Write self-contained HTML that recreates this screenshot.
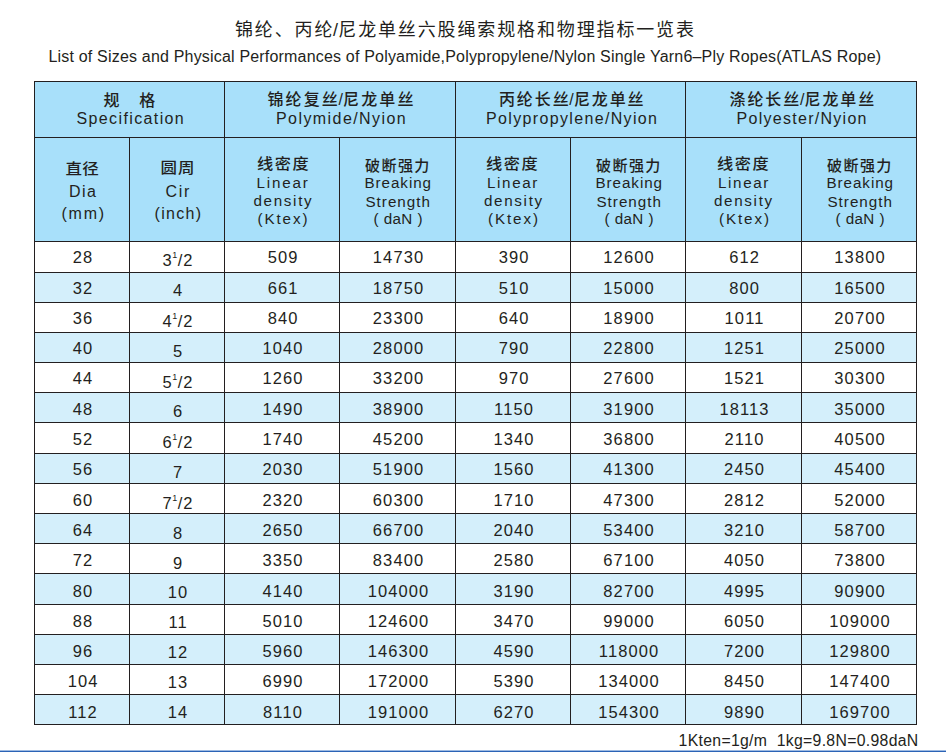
<!DOCTYPE html><html><head><meta charset="utf-8"><title>锦纶、丙纶/尼龙单丝六股绳索规格和物理指标一览表</title><style>
html,body{margin:0;padding:0;background:#fff;}
body{width:946px;height:752px;position:relative;overflow:hidden;font-family:'Liberation Sans', 'Noto Sans CJK SC', sans-serif;color:#231f20;}
div{position:absolute;}
.t{white-space:nowrap;}
.c{white-space:nowrap;text-align:center;}
.s{font-size:9px;letter-spacing:0.3px;margin-left:-0.4px;position:relative;top:-8px;}
</style></head><body>
<div style="left:34px;top:81px;width:882px;height:160px;background:#a8e0fa;"></div>
<div style="left:34px;top:272px;width:882px;height:30px;background:#d4effb;"></div>
<div style="left:34px;top:332px;width:882px;height:30px;background:#d4effb;"></div>
<div style="left:34px;top:392px;width:882px;height:30px;background:#d4effb;"></div>
<div style="left:34px;top:453px;width:882px;height:30px;background:#d4effb;"></div>
<div style="left:34px;top:513px;width:882px;height:30px;background:#d4effb;"></div>
<div style="left:34px;top:573px;width:882px;height:31px;background:#d4effb;"></div>
<div style="left:34px;top:634px;width:882px;height:30px;background:#d4effb;"></div>
<div style="left:34px;top:694px;width:882px;height:30px;background:#d4effb;"></div>
<div style="left:34px;top:81px;width:883px;height:1px;background:#231f20;"></div>
<div style="left:34px;top:137px;width:883px;height:1px;background:#231f20;"></div>
<div style="left:34px;top:241px;width:883px;height:1px;background:#231f20;"></div>
<div style="left:34px;top:272px;width:883px;height:1px;background:#231f20;"></div>
<div style="left:34px;top:302px;width:883px;height:1px;background:#231f20;"></div>
<div style="left:34px;top:332px;width:883px;height:1px;background:#231f20;"></div>
<div style="left:34px;top:362px;width:883px;height:1px;background:#231f20;"></div>
<div style="left:34px;top:392px;width:883px;height:1px;background:#231f20;"></div>
<div style="left:34px;top:422px;width:883px;height:1px;background:#231f20;"></div>
<div style="left:34px;top:453px;width:883px;height:1px;background:#231f20;"></div>
<div style="left:34px;top:483px;width:883px;height:1px;background:#231f20;"></div>
<div style="left:34px;top:513px;width:883px;height:1px;background:#231f20;"></div>
<div style="left:34px;top:543px;width:883px;height:1px;background:#231f20;"></div>
<div style="left:34px;top:573px;width:883px;height:1px;background:#231f20;"></div>
<div style="left:34px;top:604px;width:883px;height:1px;background:#231f20;"></div>
<div style="left:34px;top:634px;width:883px;height:1px;background:#231f20;"></div>
<div style="left:34px;top:664px;width:883px;height:1px;background:#231f20;"></div>
<div style="left:34px;top:694px;width:883px;height:1px;background:#231f20;"></div>
<div style="left:34px;top:724px;width:883px;height:1px;background:#231f20;"></div>
<div style="left:34px;top:81px;width:1px;height:644px;background:#231f20;"></div>
<div style="left:129px;top:137px;width:1px;height:588px;background:#231f20;"></div>
<div style="left:224px;top:81px;width:1px;height:644px;background:#231f20;"></div>
<div style="left:339px;top:137px;width:1px;height:588px;background:#231f20;"></div>
<div style="left:455px;top:81px;width:1px;height:644px;background:#231f20;"></div>
<div style="left:570px;top:137px;width:1px;height:588px;background:#231f20;"></div>
<div style="left:685px;top:81px;width:1px;height:644px;background:#231f20;"></div>
<div style="left:801px;top:137px;width:1px;height:588px;background:#231f20;"></div>
<div style="left:916px;top:81px;width:1px;height:644px;background:#231f20;"></div>
<div class="t" style="left:235px;top:20.1px;font-family:'Liberation Sans', 'Noto Sans CJK SC', sans-serif;font-size:18px;line-height:21.6px;letter-spacing:1.864px;">锦纶、丙<span style="letter-spacing:0.6px">纶</span><span style="font-family:'Liberation Sans',sans-serif;letter-spacing:0.2px">/</span>尼龙单丝六股绳索规格和物理指标一览表</div>
<div class="t" style="left:48.5px;top:47.38px;font-family:'Liberation Sans', 'Noto Sans CJK SC', sans-serif;font-size:16px;line-height:19.2px;letter-spacing:0.186px;">List of Sizes and Physical Performances of Polyamide,Polypropylene/Nylon Single Yarn6&#8211;Ply Ropes(ATLAS Rope)</div>
<div class="t" style="left:103.5px;top:90.85px;font-family:'Liberation Sans', 'Noto Sans CJK SC', sans-serif;font-size:16px;line-height:19.2px;letter-spacing:1.9px;font-weight:500;">规&#12288;格</div>
<div class="t" style="left:76.5px;top:109.2px;font-family:'Liberation Sans', 'Noto Sans CJK SC', sans-serif;font-size:16px;line-height:19.2px;letter-spacing:1.376px;">Specification</div>
<div class="t" style="left:267.5px;top:90.35px;font-family:'Liberation Sans', 'Noto Sans CJK SC', sans-serif;font-size:16px;line-height:19.2px;letter-spacing:2.099px;font-weight:500;">锦纶复<span style="letter-spacing:0.6px">丝</span><span style="font-family:'Liberation Sans',sans-serif;letter-spacing:0.2px">/</span>尼龙单丝</div>
<div class="t" style="left:276.0px;top:109.2px;font-family:'Liberation Sans', 'Noto Sans CJK SC', sans-serif;font-size:16px;line-height:19.2px;letter-spacing:1.427px;">Polymide/Nyion</div>
<div class="t" style="left:499px;top:90.35px;font-family:'Liberation Sans', 'Noto Sans CJK SC', sans-serif;font-size:16px;line-height:19.2px;letter-spacing:1.874px;font-weight:500;">丙纶长<span style="letter-spacing:0.6px">丝</span><span style="font-family:'Liberation Sans',sans-serif;letter-spacing:0.2px">/</span>尼龙单丝</div>
<div class="t" style="left:486.0px;top:109.2px;font-family:'Liberation Sans', 'Noto Sans CJK SC', sans-serif;font-size:16px;line-height:19.2px;letter-spacing:1.345px;">Polypropylene/Nyion</div>
<div class="t" style="left:729.5px;top:90.35px;font-family:'Liberation Sans', 'Noto Sans CJK SC', sans-serif;font-size:16px;line-height:19.2px;letter-spacing:1.918px;font-weight:500;">涤纶长<span style="letter-spacing:0.6px">丝</span><span style="font-family:'Liberation Sans',sans-serif;letter-spacing:0.2px">/</span>尼龙单丝</div>
<div class="t" style="left:736.5px;top:109.2px;font-family:'Liberation Sans', 'Noto Sans CJK SC', sans-serif;font-size:16px;line-height:19.2px;letter-spacing:1.284px;">Polyester/Nyion</div>
<div class="t" style="left:65.5px;top:159.85px;font-family:'Liberation Sans', 'Noto Sans CJK SC', sans-serif;font-size:16.5px;line-height:19.8px;letter-spacing:0.3px;font-weight:500;transform:scale(1.0,0.9);transform-origin:0 0;">直径</div>
<div class="t" style="left:69.0px;top:182.2px;font-family:'Liberation Sans', 'Noto Sans CJK SC', sans-serif;font-size:16px;line-height:19.2px;letter-spacing:1.4px;">Dia</div>
<div class="t" style="left:61.5px;top:204.2px;font-family:'Liberation Sans', 'Noto Sans CJK SC', sans-serif;font-size:16px;line-height:19.2px;letter-spacing:1.77px;">(mm)</div>
<div class="t" style="left:160.5px;top:158.85px;font-family:'Liberation Sans', 'Noto Sans CJK SC', sans-serif;font-size:16.5px;line-height:19.8px;letter-spacing:1.1px;font-weight:500;transform:scale(1.0,0.9);transform-origin:0 0;">圆周</div>
<div class="t" style="left:165.5px;top:182.2px;font-family:'Liberation Sans', 'Noto Sans CJK SC', sans-serif;font-size:16px;line-height:19.2px;letter-spacing:1.7px;">Cir</div>
<div class="t" style="left:154.5px;top:204.2px;font-family:'Liberation Sans', 'Noto Sans CJK SC', sans-serif;font-size:16px;line-height:19.2px;letter-spacing:1.3px;">(inch)</div>
<div class="t" style="left:256.5px;top:155.15px;font-family:'Liberation Sans', 'Noto Sans CJK SC', sans-serif;font-size:15px;line-height:18.0px;letter-spacing:1.4px;font-weight:500;transform:scale(1.08,1);transform-origin:0 0;">线密度</div>
<div class="t" style="left:256.5px;top:173.94px;font-family:'Liberation Sans', 'Noto Sans CJK SC', sans-serif;font-size:15.2px;line-height:18.24px;letter-spacing:1.82px;">Linear</div>
<div class="t" style="left:253.5px;top:191.94px;font-family:'Liberation Sans', 'Noto Sans CJK SC', sans-serif;font-size:15.2px;line-height:18.24px;letter-spacing:1.667px;">density</div>
<div class="t" style="left:257.5px;top:210.44px;font-family:'Liberation Sans', 'Noto Sans CJK SC', sans-serif;font-size:15.2px;line-height:18.24px;letter-spacing:1.9px;">(Ktex)</div>
<div class="t" style="left:486.0px;top:155.15px;font-family:'Liberation Sans', 'Noto Sans CJK SC', sans-serif;font-size:15px;line-height:18.0px;letter-spacing:1.4px;font-weight:500;transform:scale(1.08,1);transform-origin:0 0;">线密度</div>
<div class="t" style="left:487.0px;top:173.94px;font-family:'Liberation Sans', 'Noto Sans CJK SC', sans-serif;font-size:15.2px;line-height:18.24px;letter-spacing:1.62px;">Linear</div>
<div class="t" style="left:484.0px;top:191.94px;font-family:'Liberation Sans', 'Noto Sans CJK SC', sans-serif;font-size:15.2px;line-height:18.24px;letter-spacing:1.667px;">density</div>
<div class="t" style="left:488.0px;top:210.44px;font-family:'Liberation Sans', 'Noto Sans CJK SC', sans-serif;font-size:15.2px;line-height:18.24px;letter-spacing:1.9px;">(Ktex)</div>
<div class="t" style="left:717.0px;top:155.15px;font-family:'Liberation Sans', 'Noto Sans CJK SC', sans-serif;font-size:15px;line-height:18.0px;letter-spacing:1.4px;font-weight:500;transform:scale(1.08,1);transform-origin:0 0;">线密度</div>
<div class="t" style="left:718.0px;top:173.94px;font-family:'Liberation Sans', 'Noto Sans CJK SC', sans-serif;font-size:15.2px;line-height:18.24px;letter-spacing:1.62px;">Linear</div>
<div class="t" style="left:714.0px;top:191.94px;font-family:'Liberation Sans', 'Noto Sans CJK SC', sans-serif;font-size:15.2px;line-height:18.24px;letter-spacing:1.667px;">density</div>
<div class="t" style="left:719.0px;top:210.44px;font-family:'Liberation Sans', 'Noto Sans CJK SC', sans-serif;font-size:15.2px;line-height:18.24px;letter-spacing:1.9px;">(Ktex)</div>
<div class="t" style="left:365.0px;top:157.65px;font-family:'Liberation Sans', 'Noto Sans CJK SC', sans-serif;font-size:14.5px;line-height:17.4px;letter-spacing:1.306px;font-weight:500;transform:scale(1.04,1);transform-origin:0 0;">破断强力</div>
<div class="t" style="left:364.5px;top:173.94px;font-family:'Liberation Sans', 'Noto Sans CJK SC', sans-serif;font-size:15.2px;line-height:18.24px;letter-spacing:0.944px;">Breaking</div>
<div class="t" style="left:365.5px;top:192.94px;font-family:'Liberation Sans', 'Noto Sans CJK SC', sans-serif;font-size:15.2px;line-height:18.24px;letter-spacing:0.992px;">Strength</div>
<div class="t" style="left:373.5px;top:210.44px;font-family:'Liberation Sans', 'Noto Sans CJK SC', sans-serif;font-size:15.2px;line-height:18.24px;letter-spacing:0.426px;">( daN )</div>
<div class="t" style="left:596.0px;top:157.65px;font-family:'Liberation Sans', 'Noto Sans CJK SC', sans-serif;font-size:14.5px;line-height:17.4px;letter-spacing:1.306px;font-weight:500;transform:scale(1.04,1);transform-origin:0 0;">破断强力</div>
<div class="t" style="left:595.5px;top:173.94px;font-family:'Liberation Sans', 'Noto Sans CJK SC', sans-serif;font-size:15.2px;line-height:18.24px;letter-spacing:0.944px;">Breaking</div>
<div class="t" style="left:596.5px;top:192.94px;font-family:'Liberation Sans', 'Noto Sans CJK SC', sans-serif;font-size:15.2px;line-height:18.24px;letter-spacing:0.992px;">Strength</div>
<div class="t" style="left:604.5px;top:210.44px;font-family:'Liberation Sans', 'Noto Sans CJK SC', sans-serif;font-size:15.2px;line-height:18.24px;letter-spacing:0.426px;">( daN )</div>
<div class="t" style="left:827.0px;top:157.65px;font-family:'Liberation Sans', 'Noto Sans CJK SC', sans-serif;font-size:14.5px;line-height:17.4px;letter-spacing:1.306px;font-weight:500;transform:scale(1.04,1);transform-origin:0 0;">破断强力</div>
<div class="t" style="left:826.5px;top:173.94px;font-family:'Liberation Sans', 'Noto Sans CJK SC', sans-serif;font-size:15.2px;line-height:18.24px;letter-spacing:0.944px;">Breaking</div>
<div class="t" style="left:827.5px;top:192.94px;font-family:'Liberation Sans', 'Noto Sans CJK SC', sans-serif;font-size:15.2px;line-height:18.24px;letter-spacing:0.992px;">Strength</div>
<div class="t" style="left:835.5px;top:210.44px;font-family:'Liberation Sans', 'Noto Sans CJK SC', sans-serif;font-size:15.2px;line-height:18.24px;letter-spacing:0.426px;">( daN )</div>
<div class="t" style="left:678.6px;top:731.8px;font-family:'Liberation Sans', 'Noto Sans CJK SC', sans-serif;font-size:15.8px;line-height:18.96px;letter-spacing:0.304px;">1Kten=1g/m&nbsp;&nbsp;1kg=9.8N=0.98daN</div>
<div class="c" style="left:27.5px;top:247px;width:110px;font-size:16.5px;line-height:20px;letter-spacing:1.1px;text-indent:1.1px">28</div>
<div class="c" style="left:122.5px;top:250px;width:110px;font-size:16.5px;line-height:20px;letter-spacing:1.1px;text-indent:1.1px">3<span class="s">1</span>/2</div>
<div class="c" style="left:227.5px;top:247px;width:110px;font-size:16.5px;line-height:20px;letter-spacing:1.1px;text-indent:1.1px">509</div>
<div class="c" style="left:343.0px;top:247px;width:110px;font-size:16.5px;line-height:20px;letter-spacing:1.1px;text-indent:1.1px">14730</div>
<div class="c" style="left:458.5px;top:247px;width:110px;font-size:16.5px;line-height:20px;letter-spacing:1.1px;text-indent:1.1px">390</div>
<div class="c" style="left:573.5px;top:247px;width:110px;font-size:16.5px;line-height:20px;letter-spacing:1.1px;text-indent:1.1px">12600</div>
<div class="c" style="left:689.0px;top:247px;width:110px;font-size:16.5px;line-height:20px;letter-spacing:1.1px;text-indent:1.1px">612</div>
<div class="c" style="left:804.5px;top:247px;width:110px;font-size:16.5px;line-height:20px;letter-spacing:1.1px;text-indent:1.1px">13800</div>
<div class="c" style="left:27.5px;top:278px;width:110px;font-size:16.5px;line-height:20px;letter-spacing:1.1px;text-indent:1.1px">32</div>
<div class="c" style="left:122.5px;top:280px;width:110px;font-size:16.5px;line-height:20px;letter-spacing:1.1px;text-indent:1.1px">4</div>
<div class="c" style="left:227.5px;top:278px;width:110px;font-size:16.5px;line-height:20px;letter-spacing:1.1px;text-indent:1.1px">661</div>
<div class="c" style="left:343.0px;top:278px;width:110px;font-size:16.5px;line-height:20px;letter-spacing:1.1px;text-indent:1.1px">18750</div>
<div class="c" style="left:458.5px;top:278px;width:110px;font-size:16.5px;line-height:20px;letter-spacing:1.1px;text-indent:1.1px">510</div>
<div class="c" style="left:573.5px;top:278px;width:110px;font-size:16.5px;line-height:20px;letter-spacing:1.1px;text-indent:1.1px">15000</div>
<div class="c" style="left:689.0px;top:278px;width:110px;font-size:16.5px;line-height:20px;letter-spacing:1.1px;text-indent:1.1px">800</div>
<div class="c" style="left:804.5px;top:278px;width:110px;font-size:16.5px;line-height:20px;letter-spacing:1.1px;text-indent:1.1px">16500</div>
<div class="c" style="left:27.5px;top:308px;width:110px;font-size:16.5px;line-height:20px;letter-spacing:1.1px;text-indent:1.1px">36</div>
<div class="c" style="left:122.5px;top:311px;width:110px;font-size:16.5px;line-height:20px;letter-spacing:1.1px;text-indent:1.1px">4<span class="s">1</span>/2</div>
<div class="c" style="left:227.5px;top:308px;width:110px;font-size:16.5px;line-height:20px;letter-spacing:1.1px;text-indent:1.1px">840</div>
<div class="c" style="left:343.0px;top:308px;width:110px;font-size:16.5px;line-height:20px;letter-spacing:1.1px;text-indent:1.1px">23300</div>
<div class="c" style="left:458.5px;top:308px;width:110px;font-size:16.5px;line-height:20px;letter-spacing:1.1px;text-indent:1.1px">640</div>
<div class="c" style="left:573.5px;top:308px;width:110px;font-size:16.5px;line-height:20px;letter-spacing:1.1px;text-indent:1.1px">18900</div>
<div class="c" style="left:689.0px;top:308px;width:110px;font-size:16.5px;line-height:20px;letter-spacing:1.1px;text-indent:1.1px">1011</div>
<div class="c" style="left:804.5px;top:308px;width:110px;font-size:16.5px;line-height:20px;letter-spacing:1.1px;text-indent:1.1px">20700</div>
<div class="c" style="left:27.5px;top:338px;width:110px;font-size:16.5px;line-height:20px;letter-spacing:1.1px;text-indent:1.1px">40</div>
<div class="c" style="left:122.5px;top:341px;width:110px;font-size:16.5px;line-height:20px;letter-spacing:1.1px;text-indent:1.1px">5</div>
<div class="c" style="left:227.5px;top:338px;width:110px;font-size:16.5px;line-height:20px;letter-spacing:1.1px;text-indent:1.1px">1040</div>
<div class="c" style="left:343.0px;top:338px;width:110px;font-size:16.5px;line-height:20px;letter-spacing:1.1px;text-indent:1.1px">28000</div>
<div class="c" style="left:458.5px;top:338px;width:110px;font-size:16.5px;line-height:20px;letter-spacing:1.1px;text-indent:1.1px">790</div>
<div class="c" style="left:573.5px;top:338px;width:110px;font-size:16.5px;line-height:20px;letter-spacing:1.1px;text-indent:1.1px">22800</div>
<div class="c" style="left:689.0px;top:338px;width:110px;font-size:16.5px;line-height:20px;letter-spacing:1.1px;text-indent:1.1px">1251</div>
<div class="c" style="left:804.5px;top:338px;width:110px;font-size:16.5px;line-height:20px;letter-spacing:1.1px;text-indent:1.1px">25000</div>
<div class="c" style="left:27.5px;top:368px;width:110px;font-size:16.5px;line-height:20px;letter-spacing:1.1px;text-indent:1.1px">44</div>
<div class="c" style="left:122.5px;top:372px;width:110px;font-size:16.5px;line-height:20px;letter-spacing:1.1px;text-indent:1.1px">5<span class="s">1</span>/2</div>
<div class="c" style="left:227.5px;top:368px;width:110px;font-size:16.5px;line-height:20px;letter-spacing:1.1px;text-indent:1.1px">1260</div>
<div class="c" style="left:343.0px;top:368px;width:110px;font-size:16.5px;line-height:20px;letter-spacing:1.1px;text-indent:1.1px">33200</div>
<div class="c" style="left:458.5px;top:368px;width:110px;font-size:16.5px;line-height:20px;letter-spacing:1.1px;text-indent:1.1px">970</div>
<div class="c" style="left:573.5px;top:368px;width:110px;font-size:16.5px;line-height:20px;letter-spacing:1.1px;text-indent:1.1px">27600</div>
<div class="c" style="left:689.0px;top:368px;width:110px;font-size:16.5px;line-height:20px;letter-spacing:1.1px;text-indent:1.1px">1521</div>
<div class="c" style="left:804.5px;top:368px;width:110px;font-size:16.5px;line-height:20px;letter-spacing:1.1px;text-indent:1.1px">30300</div>
<div class="c" style="left:27.5px;top:399px;width:110px;font-size:16.5px;line-height:20px;letter-spacing:1.1px;text-indent:1.1px">48</div>
<div class="c" style="left:122.5px;top:401px;width:110px;font-size:16.5px;line-height:20px;letter-spacing:1.1px;text-indent:1.1px">6</div>
<div class="c" style="left:227.5px;top:399px;width:110px;font-size:16.5px;line-height:20px;letter-spacing:1.1px;text-indent:1.1px">1490</div>
<div class="c" style="left:343.0px;top:399px;width:110px;font-size:16.5px;line-height:20px;letter-spacing:1.1px;text-indent:1.1px">38900</div>
<div class="c" style="left:458.5px;top:399px;width:110px;font-size:16.5px;line-height:20px;letter-spacing:1.1px;text-indent:1.1px">1150</div>
<div class="c" style="left:573.5px;top:399px;width:110px;font-size:16.5px;line-height:20px;letter-spacing:1.1px;text-indent:1.1px">31900</div>
<div class="c" style="left:689.0px;top:399px;width:110px;font-size:16.5px;line-height:20px;letter-spacing:1.1px;text-indent:1.1px">18113</div>
<div class="c" style="left:804.5px;top:399px;width:110px;font-size:16.5px;line-height:20px;letter-spacing:1.1px;text-indent:1.1px">35000</div>
<div class="c" style="left:27.5px;top:429px;width:110px;font-size:16.5px;line-height:20px;letter-spacing:1.1px;text-indent:1.1px">52</div>
<div class="c" style="left:122.5px;top:432px;width:110px;font-size:16.5px;line-height:20px;letter-spacing:1.1px;text-indent:1.1px">6<span class="s">1</span>/2</div>
<div class="c" style="left:227.5px;top:429px;width:110px;font-size:16.5px;line-height:20px;letter-spacing:1.1px;text-indent:1.1px">1740</div>
<div class="c" style="left:343.0px;top:429px;width:110px;font-size:16.5px;line-height:20px;letter-spacing:1.1px;text-indent:1.1px">45200</div>
<div class="c" style="left:458.5px;top:429px;width:110px;font-size:16.5px;line-height:20px;letter-spacing:1.1px;text-indent:1.1px">1340</div>
<div class="c" style="left:573.5px;top:429px;width:110px;font-size:16.5px;line-height:20px;letter-spacing:1.1px;text-indent:1.1px">36800</div>
<div class="c" style="left:689.0px;top:429px;width:110px;font-size:16.5px;line-height:20px;letter-spacing:1.1px;text-indent:1.1px">2110</div>
<div class="c" style="left:804.5px;top:429px;width:110px;font-size:16.5px;line-height:20px;letter-spacing:1.1px;text-indent:1.1px">40500</div>
<div class="c" style="left:27.5px;top:459px;width:110px;font-size:16.5px;line-height:20px;letter-spacing:1.1px;text-indent:1.1px">56</div>
<div class="c" style="left:122.5px;top:462px;width:110px;font-size:16.5px;line-height:20px;letter-spacing:1.1px;text-indent:1.1px">7</div>
<div class="c" style="left:227.5px;top:459px;width:110px;font-size:16.5px;line-height:20px;letter-spacing:1.1px;text-indent:1.1px">2030</div>
<div class="c" style="left:343.0px;top:459px;width:110px;font-size:16.5px;line-height:20px;letter-spacing:1.1px;text-indent:1.1px">51900</div>
<div class="c" style="left:458.5px;top:459px;width:110px;font-size:16.5px;line-height:20px;letter-spacing:1.1px;text-indent:1.1px">1560</div>
<div class="c" style="left:573.5px;top:459px;width:110px;font-size:16.5px;line-height:20px;letter-spacing:1.1px;text-indent:1.1px">41300</div>
<div class="c" style="left:689.0px;top:459px;width:110px;font-size:16.5px;line-height:20px;letter-spacing:1.1px;text-indent:1.1px">2450</div>
<div class="c" style="left:804.5px;top:459px;width:110px;font-size:16.5px;line-height:20px;letter-spacing:1.1px;text-indent:1.1px">45400</div>
<div class="c" style="left:27.5px;top:490px;width:110px;font-size:16.5px;line-height:20px;letter-spacing:1.1px;text-indent:1.1px">60</div>
<div class="c" style="left:122.5px;top:493px;width:110px;font-size:16.5px;line-height:20px;letter-spacing:1.1px;text-indent:1.1px">7<span class="s">1</span>/2</div>
<div class="c" style="left:227.5px;top:490px;width:110px;font-size:16.5px;line-height:20px;letter-spacing:1.1px;text-indent:1.1px">2320</div>
<div class="c" style="left:343.0px;top:490px;width:110px;font-size:16.5px;line-height:20px;letter-spacing:1.1px;text-indent:1.1px">60300</div>
<div class="c" style="left:458.5px;top:490px;width:110px;font-size:16.5px;line-height:20px;letter-spacing:1.1px;text-indent:1.1px">1710</div>
<div class="c" style="left:573.5px;top:490px;width:110px;font-size:16.5px;line-height:20px;letter-spacing:1.1px;text-indent:1.1px">47300</div>
<div class="c" style="left:689.0px;top:490px;width:110px;font-size:16.5px;line-height:20px;letter-spacing:1.1px;text-indent:1.1px">2812</div>
<div class="c" style="left:804.5px;top:490px;width:110px;font-size:16.5px;line-height:20px;letter-spacing:1.1px;text-indent:1.1px">52000</div>
<div class="c" style="left:27.5px;top:520px;width:110px;font-size:16.5px;line-height:20px;letter-spacing:1.1px;text-indent:1.1px">64</div>
<div class="c" style="left:122.5px;top:523px;width:110px;font-size:16.5px;line-height:20px;letter-spacing:1.1px;text-indent:1.1px">8</div>
<div class="c" style="left:227.5px;top:520px;width:110px;font-size:16.5px;line-height:20px;letter-spacing:1.1px;text-indent:1.1px">2650</div>
<div class="c" style="left:343.0px;top:520px;width:110px;font-size:16.5px;line-height:20px;letter-spacing:1.1px;text-indent:1.1px">66700</div>
<div class="c" style="left:458.5px;top:520px;width:110px;font-size:16.5px;line-height:20px;letter-spacing:1.1px;text-indent:1.1px">2040</div>
<div class="c" style="left:573.5px;top:520px;width:110px;font-size:16.5px;line-height:20px;letter-spacing:1.1px;text-indent:1.1px">53400</div>
<div class="c" style="left:689.0px;top:520px;width:110px;font-size:16.5px;line-height:20px;letter-spacing:1.1px;text-indent:1.1px">3210</div>
<div class="c" style="left:804.5px;top:520px;width:110px;font-size:16.5px;line-height:20px;letter-spacing:1.1px;text-indent:1.1px">58700</div>
<div class="c" style="left:27.5px;top:550px;width:110px;font-size:16.5px;line-height:20px;letter-spacing:1.1px;text-indent:1.1px">72</div>
<div class="c" style="left:122.5px;top:553px;width:110px;font-size:16.5px;line-height:20px;letter-spacing:1.1px;text-indent:1.1px">9</div>
<div class="c" style="left:227.5px;top:550px;width:110px;font-size:16.5px;line-height:20px;letter-spacing:1.1px;text-indent:1.1px">3350</div>
<div class="c" style="left:343.0px;top:550px;width:110px;font-size:16.5px;line-height:20px;letter-spacing:1.1px;text-indent:1.1px">83400</div>
<div class="c" style="left:458.5px;top:550px;width:110px;font-size:16.5px;line-height:20px;letter-spacing:1.1px;text-indent:1.1px">2580</div>
<div class="c" style="left:573.5px;top:550px;width:110px;font-size:16.5px;line-height:20px;letter-spacing:1.1px;text-indent:1.1px">67100</div>
<div class="c" style="left:689.0px;top:550px;width:110px;font-size:16.5px;line-height:20px;letter-spacing:1.1px;text-indent:1.1px">4050</div>
<div class="c" style="left:804.5px;top:550px;width:110px;font-size:16.5px;line-height:20px;letter-spacing:1.1px;text-indent:1.1px">73800</div>
<div class="c" style="left:27.5px;top:581px;width:110px;font-size:16.5px;line-height:20px;letter-spacing:1.1px;text-indent:1.1px">80</div>
<div class="c" style="left:122.5px;top:582px;width:110px;font-size:16.5px;line-height:20px;letter-spacing:1.1px;text-indent:1.1px">10</div>
<div class="c" style="left:227.5px;top:581px;width:110px;font-size:16.5px;line-height:20px;letter-spacing:1.1px;text-indent:1.1px">4140</div>
<div class="c" style="left:343.0px;top:581px;width:110px;font-size:16.5px;line-height:20px;letter-spacing:1.1px;text-indent:1.1px">104000</div>
<div class="c" style="left:458.5px;top:581px;width:110px;font-size:16.5px;line-height:20px;letter-spacing:1.1px;text-indent:1.1px">3190</div>
<div class="c" style="left:573.5px;top:581px;width:110px;font-size:16.5px;line-height:20px;letter-spacing:1.1px;text-indent:1.1px">82700</div>
<div class="c" style="left:689.0px;top:581px;width:110px;font-size:16.5px;line-height:20px;letter-spacing:1.1px;text-indent:1.1px">4995</div>
<div class="c" style="left:804.5px;top:581px;width:110px;font-size:16.5px;line-height:20px;letter-spacing:1.1px;text-indent:1.1px">90900</div>
<div class="c" style="left:27.5px;top:611px;width:110px;font-size:16.5px;line-height:20px;letter-spacing:1.1px;text-indent:1.1px">88</div>
<div class="c" style="left:122.5px;top:612px;width:110px;font-size:16.5px;line-height:20px;letter-spacing:1.1px;text-indent:1.1px">11</div>
<div class="c" style="left:227.5px;top:611px;width:110px;font-size:16.5px;line-height:20px;letter-spacing:1.1px;text-indent:1.1px">5010</div>
<div class="c" style="left:343.0px;top:611px;width:110px;font-size:16.5px;line-height:20px;letter-spacing:1.1px;text-indent:1.1px">124600</div>
<div class="c" style="left:458.5px;top:611px;width:110px;font-size:16.5px;line-height:20px;letter-spacing:1.1px;text-indent:1.1px">3470</div>
<div class="c" style="left:573.5px;top:611px;width:110px;font-size:16.5px;line-height:20px;letter-spacing:1.1px;text-indent:1.1px">99000</div>
<div class="c" style="left:689.0px;top:611px;width:110px;font-size:16.5px;line-height:20px;letter-spacing:1.1px;text-indent:1.1px">6050</div>
<div class="c" style="left:804.5px;top:611px;width:110px;font-size:16.5px;line-height:20px;letter-spacing:1.1px;text-indent:1.1px">109000</div>
<div class="c" style="left:27.5px;top:641px;width:110px;font-size:16.5px;line-height:20px;letter-spacing:1.1px;text-indent:1.1px">96</div>
<div class="c" style="left:122.5px;top:642px;width:110px;font-size:16.5px;line-height:20px;letter-spacing:1.1px;text-indent:1.1px">12</div>
<div class="c" style="left:227.5px;top:641px;width:110px;font-size:16.5px;line-height:20px;letter-spacing:1.1px;text-indent:1.1px">5960</div>
<div class="c" style="left:343.0px;top:641px;width:110px;font-size:16.5px;line-height:20px;letter-spacing:1.1px;text-indent:1.1px">146300</div>
<div class="c" style="left:458.5px;top:641px;width:110px;font-size:16.5px;line-height:20px;letter-spacing:1.1px;text-indent:1.1px">4590</div>
<div class="c" style="left:573.5px;top:641px;width:110px;font-size:16.5px;line-height:20px;letter-spacing:1.1px;text-indent:1.1px">118000</div>
<div class="c" style="left:689.0px;top:641px;width:110px;font-size:16.5px;line-height:20px;letter-spacing:1.1px;text-indent:1.1px">7200</div>
<div class="c" style="left:804.5px;top:641px;width:110px;font-size:16.5px;line-height:20px;letter-spacing:1.1px;text-indent:1.1px">129800</div>
<div class="c" style="left:27.5px;top:671px;width:110px;font-size:16.5px;line-height:20px;letter-spacing:1.1px;text-indent:1.1px">104</div>
<div class="c" style="left:122.5px;top:672px;width:110px;font-size:16.5px;line-height:20px;letter-spacing:1.1px;text-indent:1.1px">13</div>
<div class="c" style="left:227.5px;top:671px;width:110px;font-size:16.5px;line-height:20px;letter-spacing:1.1px;text-indent:1.1px">6990</div>
<div class="c" style="left:343.0px;top:671px;width:110px;font-size:16.5px;line-height:20px;letter-spacing:1.1px;text-indent:1.1px">172000</div>
<div class="c" style="left:458.5px;top:671px;width:110px;font-size:16.5px;line-height:20px;letter-spacing:1.1px;text-indent:1.1px">5390</div>
<div class="c" style="left:573.5px;top:671px;width:110px;font-size:16.5px;line-height:20px;letter-spacing:1.1px;text-indent:1.1px">134000</div>
<div class="c" style="left:689.0px;top:671px;width:110px;font-size:16.5px;line-height:20px;letter-spacing:1.1px;text-indent:1.1px">8450</div>
<div class="c" style="left:804.5px;top:671px;width:110px;font-size:16.5px;line-height:20px;letter-spacing:1.1px;text-indent:1.1px">147400</div>
<div class="c" style="left:27.5px;top:702px;width:110px;font-size:16.5px;line-height:20px;letter-spacing:1.1px;text-indent:1.1px">112</div>
<div class="c" style="left:122.5px;top:702px;width:110px;font-size:16.5px;line-height:20px;letter-spacing:1.1px;text-indent:1.1px">14</div>
<div class="c" style="left:227.5px;top:702px;width:110px;font-size:16.5px;line-height:20px;letter-spacing:1.1px;text-indent:1.1px">8110</div>
<div class="c" style="left:343.0px;top:702px;width:110px;font-size:16.5px;line-height:20px;letter-spacing:1.1px;text-indent:1.1px">191000</div>
<div class="c" style="left:458.5px;top:702px;width:110px;font-size:16.5px;line-height:20px;letter-spacing:1.1px;text-indent:1.1px">6270</div>
<div class="c" style="left:573.5px;top:702px;width:110px;font-size:16.5px;line-height:20px;letter-spacing:1.1px;text-indent:1.1px">154300</div>
<div class="c" style="left:689.0px;top:702px;width:110px;font-size:16.5px;line-height:20px;letter-spacing:1.1px;text-indent:1.1px">9890</div>
<div class="c" style="left:804.5px;top:702px;width:110px;font-size:16.5px;line-height:20px;letter-spacing:1.1px;text-indent:1.1px">169700</div>
<div style="left:0px;top:751px;width:946px;height:1px;background:#2b63b6;"></div>
<div style="left:0px;top:750px;width:946px;height:1px;background:#9fbbe2;"></div>
</body></html>
